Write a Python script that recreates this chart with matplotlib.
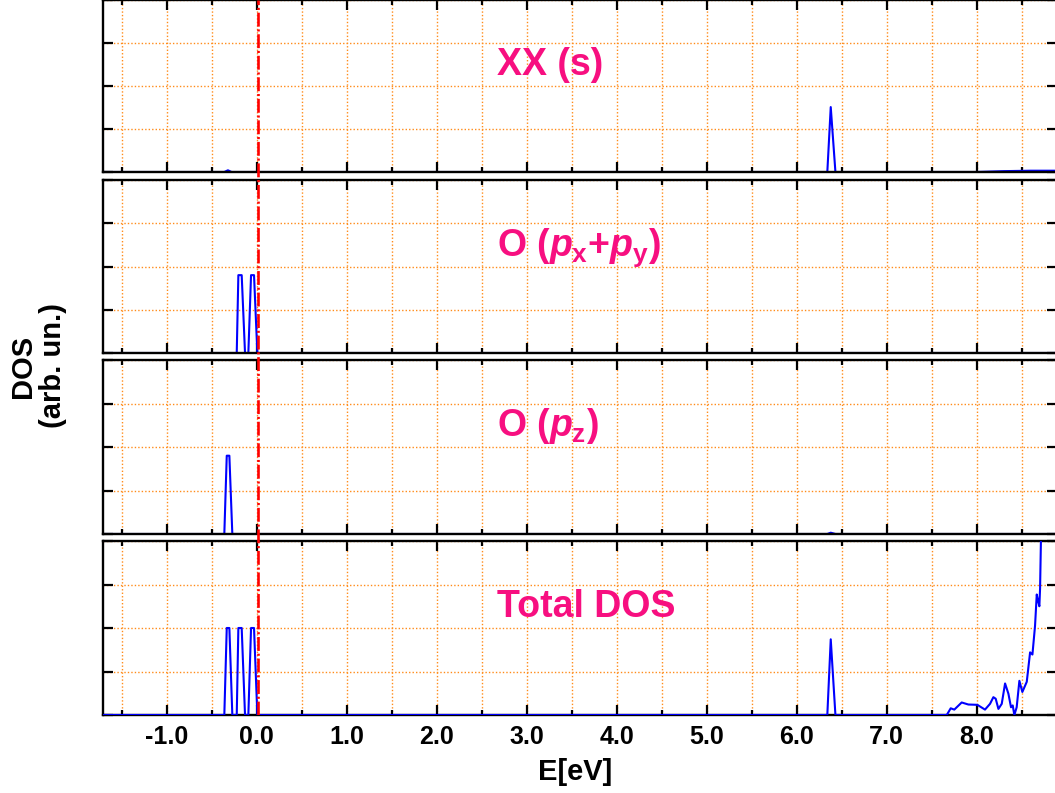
import matplotlib
matplotlib.use("Agg")
import matplotlib.pyplot as plt
from matplotlib.ticker import MultipleLocator, FormatStrFormatter

plt.rcParams['font.family'] = ['Liberation Sans', 'DejaVu Sans']
plt.rcParams['font.weight'] = 'bold'
plt.rcParams['mathtext.fontset'] = 'custom'
plt.rcParams['mathtext.rm'] = 'Liberation Sans:bold'
plt.rcParams['mathtext.bf'] = 'Liberation Sans:bold'
plt.rcParams['mathtext.it'] = 'Liberation Sans:italic:bold'
plt.rcParams['lines.scale_dashes'] = False

# Projected densities of states (arbitrary units), energies in eV
xx_s_E = [-1.75, -0.36, -0.32, -0.28, 6.34, 6.378, 6.43, 8.0, 8.3, 8.6, 8.9]
xx_s_V = [0.0, 0.0, 0.04, 0.0, 0.0, 1.51, 0.0, 0.0, 0.02, 0.03, 0.03]

o_pxpy_E = [-1.75, -0.222, -0.204, -0.167, -0.13, -0.093, -0.063, -0.03, 0.007, 8.9]
o_pxpy_V = [0.0, 0.0, 1.8, 1.8, 0.0, 0.0, 1.8, 1.8, 0.0, 0.0]

o_pz_E = [-1.75, -0.36, -0.333, -0.304, -0.271, 6.34, 6.378, 6.43, 8.9]
o_pz_V = [0.0, 0.0, 1.8, 1.8, 0.0, 0.0, 0.03, 0.0, 0.0]

total_E = [-1.75, -0.36, -0.333, -0.304, -0.271, -0.222, -0.204, -0.167, -0.13,
           -0.093, -0.063, -0.03, 0.007, 6.34, 6.378, 6.43, 7.667, 7.711, 7.751,
           7.833, 7.907, 8.007, 8.092, 8.148, 8.185, 8.211, 8.241, 8.278, 8.315,
           8.352, 8.381, 8.40, 8.418, 8.444, 8.474, 8.507, 8.556, 8.593, 8.619,
           8.648, 8.667, 8.681, 8.696, 8.704, 8.715, 8.76, 8.85, 8.9]
total_V = [0.0, 0.0, 2.0, 2.0, 0.0, 0.0, 2.0, 2.0, 0.0,
           0.0, 2.0, 2.0, 0.0, 0.0, 1.74, 0.0, 0.0, 0.154, 0.124,
           0.288, 0.241, 0.234, 0.124, 0.257, 0.41, 0.374, 0.14, 0.257, 0.725,
           0.49, 0.178, 0.22, 0.0, 0.178, 0.786, 0.529, 0.763, 1.44, 1.39,
           2.05, 2.77, 2.63, 2.50, 2.91, 4.2, 5.0, 5.8, 6.2]

panel_titles = ["XX (s)",
                r"O ($\mathit{p}_{\mathrm{x}}$+$\mathit{p}_{\mathrm{y}}$)",
                r"O ($\mathit{p}_{\mathrm{z}}$)",
                "Total DOS"]
series = [(xx_s_E, xx_s_V), (o_pxpy_E, o_pxpy_V), (o_pz_E, o_pz_V), (total_E, total_V)]

fermi_level = 0.01
x_min, x_max = -1.708, 8.892
y_max = 4.0

W, H = 1055, 793
fig = plt.figure(figsize=(W / 100, H / 100), dpi=100)

left_px, right_px = 103, 1057
panel_rows = [(0, 172), (180, 353), (360, 534), (541, 715)]  # top/bottom in pixels

grid_color = '#ff8c1a'
label_color = '#f70f80'
axes = []
for i, ((top, bot), (E, V), title) in enumerate(zip(panel_rows, series, panel_titles)):
    ax = fig.add_axes([left_px / W, 1 - bot / H, (right_px - left_px) / W, (bot - top) / H])
    ax.plot(E, V, color='#0000ff', lw=1.5, zorder=4 if i == 3 else 2)
    ax.set_xlim(x_min, x_max)
    ax.set_ylim(0, y_max)
    ax.xaxis.set_major_locator(MultipleLocator(1.0))
    ax.xaxis.set_minor_locator(MultipleLocator(0.5))
    ax.yaxis.set_major_locator(MultipleLocator(1.0))
    ax.grid(True, which='both', axis='x', color=grid_color, lw=1.0, ls=(0, (1, 1.5)))
    ax.grid(True, which='major', axis='y', color=grid_color, lw=1.0, ls=(0, (1, 1.5)))
    ax.set_axisbelow(True)
    ax.tick_params(which='both', direction='in', top=True, right=True, width=1.6,
                   labelsize=18, pad=7)
    ax.tick_params(which='major', length=7.5)
    ax.tick_params(which='minor', length=3.8)
    ax.tick_params(axis='y', labelleft=False)
    for sp in ax.spines.values():
        sp.set_linewidth(1.7)
        sp.set_zorder(3)
    if i < 3:
        ax.tick_params(axis='x', labelbottom=False)
    else:
        ax.xaxis.set_major_formatter(FormatStrFormatter('%.1f'))
        for lab in ax.get_xticklabels():
            lab.set_fontweight('bold')
    ax.text(2.67, 0.565, title, transform=ax.get_xaxis_transform(),
            fontsize=27, fontweight='bold', color=label_color,
            ha='left', va='baseline', zorder=5)
    axes.append(ax)

# Fermi level spanning all panels
overlay = fig.add_axes([left_px / W, 1 - 715 / H, (right_px - left_px) / W, 715 / H])
overlay.set_xlim(x_min, x_max)
overlay.set_ylim(0, 1)
overlay.axis('off')
overlay.axvline(fermi_level, color='#ff0000', lw=1.9, ls=(0, (10, 2, 1.5, 2)))

fig.text(575 / W, 1 - 772 / H, "E[eV]", fontsize=21, fontweight='bold',
         ha='center', va='center')
fig.text(38 / W, 1 - 366 / H, "DOS\n(arb. un.)", fontsize=21, fontweight='bold',
         rotation=90, ha='center', va='center', multialignment='center', linespacing=1.05)

fig.savefig("out.png", dpi=100)
